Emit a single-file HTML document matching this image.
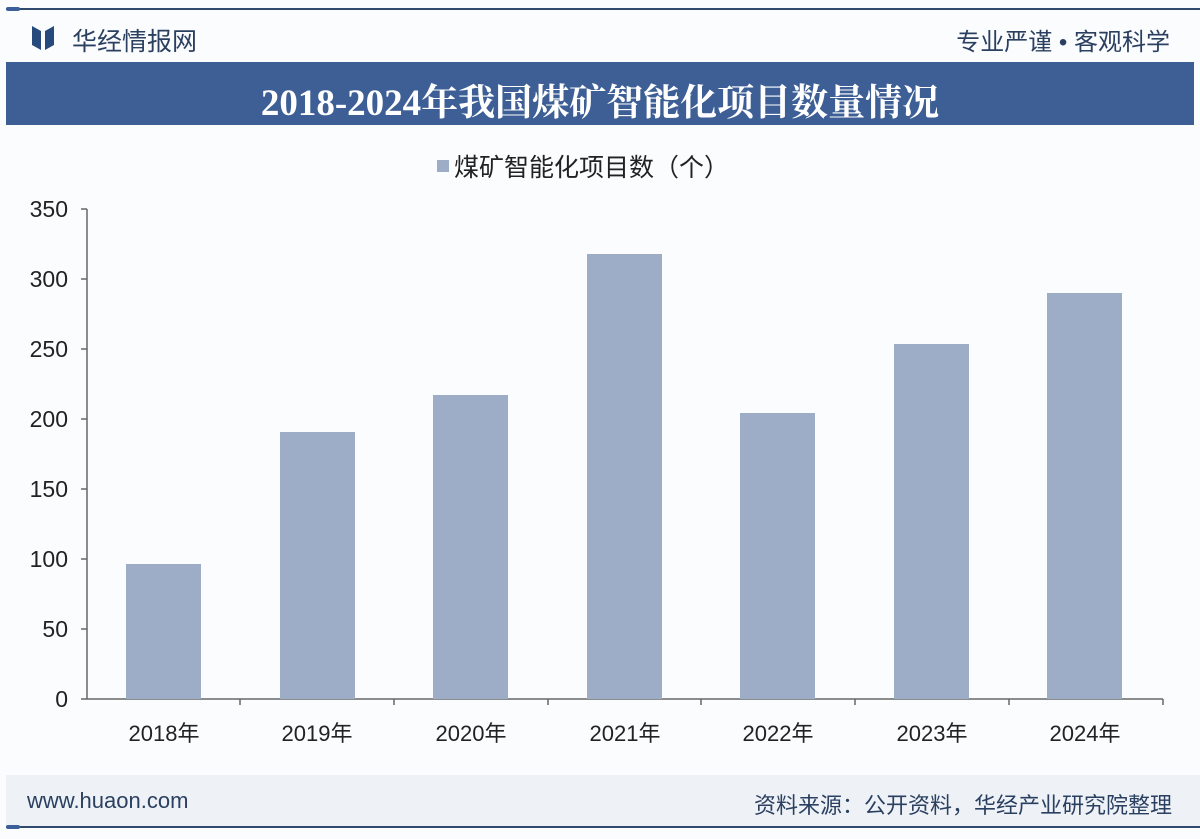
<!DOCTYPE html>
<html><head><meta charset="utf-8"><style>
body{margin:0;width:1200px;height:839px;background:#fbfcfe;font-family:"Liberation Sans","Noto Sans CJK SC",sans-serif;position:relative;overflow:hidden}
.a{position:absolute}
</style></head><body>
<div class="a" style="left:6px;top:8px;width:1194px;height:2px;background:#2f4a6e"></div>
<div class="a" style="left:6px;top:7px;width:14px;height:4px;background:#3a5f9a;border-radius:2px"></div>
<svg class="a" style="left:32px;top:26px" width="22" height="24"><polygon points="0,0 9,5 9,24 0,19" fill="#274a7d"/><polygon points="22,0 13,5 13,24 22,19" fill="#274a7d"/></svg>
<div class="a" style="left:72px;top:22px;font-size:25px;color:#2b4060">华经情报网</div>
<div class="a" style="right:30px;top:22px;font-size:24px;color:#2b4060">专业严谨 • 客观科学</div>
<div class="a" style="left:6px;top:62px;width:1188px;height:63px;background:#3d5f96"></div>
<div class="a" style="left:0;top:72px;width:1200px;text-align:center;font-family:'Liberation Serif','Noto Serif CJK SC',serif;font-weight:bold;font-size:37px;color:#fff">2018-2024年我国煤矿智能化项目数量情况</div>
<div class="a" style="left:437px;top:160px;width:12px;height:12px;background:#9dadc8"></div>
<div class="a" style="left:454px;top:148px;font-size:25px;color:#222">煤矿智能化项目数（个）</div>
<svg class="a" style="left:0;top:0" width="1200" height="839">
<g stroke="#666" stroke-width="1.5" fill="none">
<line x1="87" y1="209" x2="87" y2="699"/><line x1="81" y1="699" x2="1163" y2="699"/>
<line x1="81" y1="209" x2="87" y2="209"/><line x1="81" y1="279" x2="87" y2="279"/><line x1="81" y1="349" x2="87" y2="349"/><line x1="81" y1="419" x2="87" y2="419"/><line x1="81" y1="489" x2="87" y2="489"/><line x1="81" y1="559" x2="87" y2="559"/><line x1="81" y1="629" x2="87" y2="629"/>
<line x1="240" y1="699" x2="240" y2="705"/><line x1="394" y1="699" x2="394" y2="705"/><line x1="548" y1="699" x2="548" y2="705"/><line x1="701" y1="699" x2="701" y2="705"/><line x1="855" y1="699" x2="855" y2="705"/><line x1="1009" y1="699" x2="1009" y2="705"/><line x1="1163" y1="699" x2="1163" y2="705"/>
</g>
<g fill="#9dadc8">
<rect x="126" y="564" width="75" height="135"/>
<rect x="280" y="432" width="75" height="267"/>
<rect x="433" y="395" width="75" height="304"/>
<rect x="587" y="254" width="75" height="445"/>
<rect x="740" y="413" width="75" height="286"/>
<rect x="894" y="344" width="75" height="355"/>
<rect x="1047" y="293" width="75" height="406"/>
</g>
<g font-size="23" fill="#222" text-anchor="end" font-family="Liberation Sans, sans-serif">
<text x="68" y="217">350</text><text x="68" y="287">300</text><text x="68" y="357">250</text><text x="68" y="427">200</text><text x="68" y="497">150</text><text x="68" y="567">100</text><text x="68" y="637">50</text><text x="68" y="707">0</text>
</g>
<g font-size="22" fill="#222" text-anchor="middle" font-family="Liberation Sans, Noto Sans CJK SC, sans-serif">
<text x="164" y="741">2018年</text><text x="317" y="741">2019年</text><text x="471" y="741">2020年</text><text x="625" y="741">2021年</text><text x="778" y="741">2022年</text><text x="932" y="741">2023年</text><text x="1085" y="741">2024年</text>
</g>
</svg>
<div class="a" style="left:6px;top:775px;width:1194px;height:52px;background:#eef2f7"></div>
<div class="a" style="left:6px;top:826px;width:1194px;height:2px;background:#2f4a6e"></div>
<div class="a" style="left:6px;top:825px;width:14px;height:4px;background:#3a5f9a;border-radius:2px"></div>
<div class="a" style="left:27px;top:788px;font-size:22px;color:#2b4060">www.huaon.com</div>
<div class="a" style="right:28px;top:788px;font-size:22px;color:#2b4060">资料来源：公开资料，华经产业研究院整理</div>
</body></html>
